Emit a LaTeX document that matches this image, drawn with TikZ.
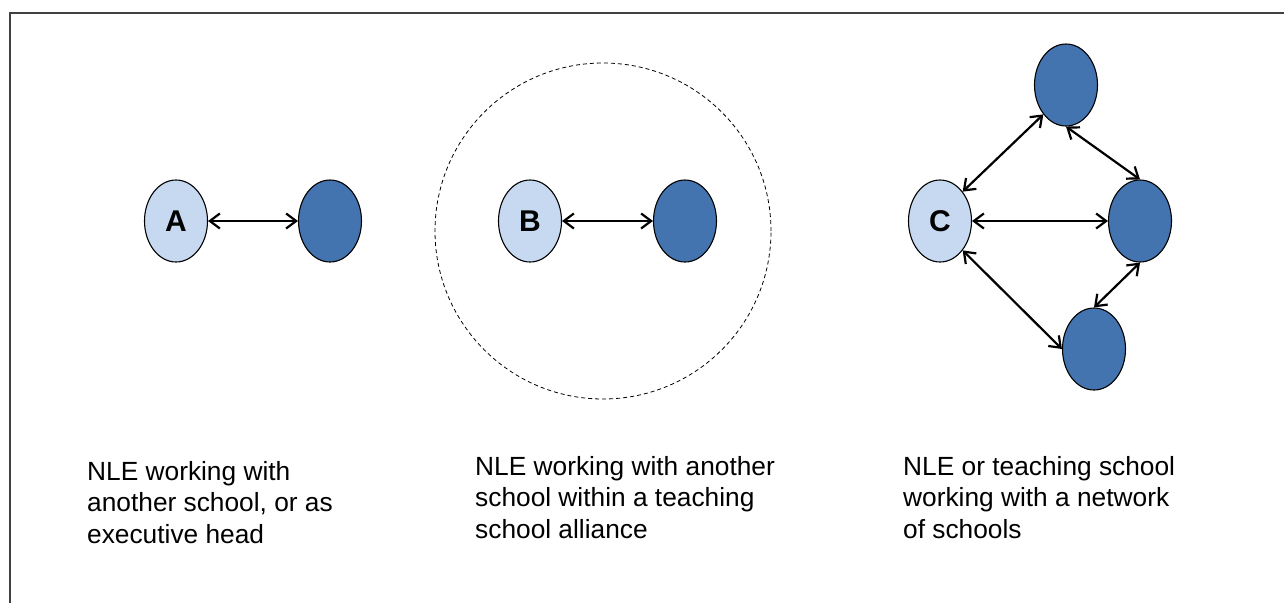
\documentclass[tikz,border=0pt]{standalone}
\usepackage{fontspec}
\setmainfont{Liberation Sans}
\usetikzlibrary{arrows.meta,shapes.geometric,positioning}
\definecolor{nlefill}{RGB}{198,217,240}
\definecolor{schoolfill}{RGB}{67,116,175}
\definecolor{framegrey}{RGB}{64,64,64}
\tikzset{
    nle/.style={draw, ellipse, fill=nlefill, line width=1.1pt, inner sep=0pt,
        minimum width=63pt, minimum height=82pt, font=\fontsize{30}{36}\selectfont\bfseries},
    partner/.style={nle, fill=schoolfill},
    link/.style={{Straight Barb[length=10pt,width=15pt]}-{Straight Barb[length=10pt,width=15pt]}, line width=2.2pt},
    alliance/.style={draw, circle, dash pattern=on 4pt off 3pt, line width=0.8pt, minimum size=336pt, inner sep=0pt},
    caption/.style={anchor=north west, inner sep=0pt, align=left, font=\fontsize{26.3}{31.5}\selectfont}
}
\begin{document}
\begin{tikzpicture}[x=1pt, y=-1pt]
    \useasboundingbox (0,0) rectangle (1284,603);
    \draw[framegrey, line width=1.6pt] (10,603) -- (10,13) -- (1284,13);

    % A: one other school
    \node[nle] (a) at (176,221) {A};
    \node[partner] (a2) at (330,221) {};
    \draw[link] (a) -- (a2);

    % B: inside a teaching school alliance
    \node[alliance] (tsa) at (603,231) {};
    \node[nle] (b) at (530,221) {B};
    \node[partner] (b2) at (685,221) {};
    \draw[link] (b) -- (b2);

    % C: network of schools
    \node[nle] (c) at (940,221) {C};
    \node[partner] (c1) at (1066,85) {};
    \node[partner] (c2) at (1140,221) {};
    \node[partner] (c3) at (1094,349) {};
    \draw[link] (c.north east) -- (c1.south west);
    \draw[link] (c) -- (c2);
    \draw[link] (c.south east) -- (c3.west);
    \draw[link] (c1.south) -- (c2.north);
    \draw[link] (c2.south) -- (c3.north);

    \node[caption] (capa) at (87,461) {NLE working with\\another school, or as\\executive head};
    \node[caption] (capb) at (475,456) {NLE working with another\\school within a teaching\\school alliance};
    \node[caption] (capc) at (903,456) {NLE or teaching school\\working with a network\\of schools};
\end{tikzpicture}
\end{document}
